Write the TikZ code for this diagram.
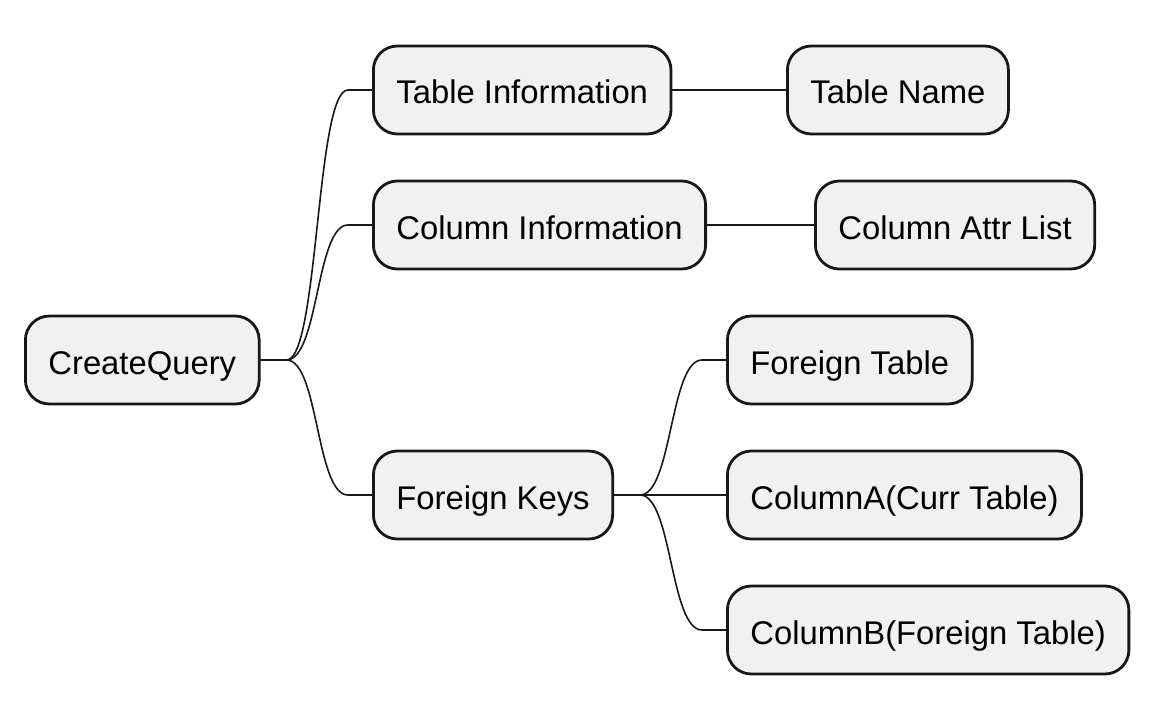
\documentclass[tikz,border=0pt]{standalone}
\usepackage{fontspec}
\setmainfont{Liberation Sans}
\usetikzlibrary{calc}
\definecolor{boxfill}{HTML}{F1F1F1}
\definecolor{boxline}{HTML}{181818}
\tikzstyle{idea} = [rectangle, rounded corners=12pt, draw=boxline, line width=1.4pt, fill=boxfill, minimum height=44pt, inner xsep=11.5pt, text height=16pt, text depth=2pt, anchor=west, font=\fontsize{16.4}{19}\selectfont]
\tikzstyle{branch} = [draw=boxline, line width=0.8pt, to path={-- ++(13pt,0) .. controls +(16pt,0) and ($(\tikztotarget)+(-28pt,0)$) .. ($(\tikztotarget)+(-12pt,0)$) -- (\tikztotarget)}]
\begin{document}
\begin{tikzpicture}[x=0.5pt,y=-0.5pt]
            \useasboundingbox (0,0) rectangle (1156,722);
            \node [idea] at (24,360) (root) {CreateQuery};
            \node [idea] at (372,90) (info1) {Table Information};
            \node [idea] at (786,90) (name1) {Table Name};
            \node [idea] at (372,225) (info2) {Column Information};
            \node [idea] at (814,225) (attr2) {Column Attr List};
            \node [idea] at (372,495) (keys) {Foreign Keys};
            \node [idea] at (726,360) (key1) {Foreign Table};
            \node [idea] at (726,495) (key2) {ColumnA(Curr Table)};
            \node [idea] at (726,630) (key3) {ColumnB(Foreign Table)};

            \draw [branch] (root.east) to (info1.west);
            \draw [branch] (root.east) to (info2.west);
            \draw [branch] (root.east) to (keys.west);
            \draw [branch] (info1.east) to (name1.west);
            \draw [branch] (info2.east) to (attr2.west);
            \draw [branch] (keys.east) to (key1.west);
            \draw [branch] (keys.east) to (key2.west);
            \draw [branch] (keys.east) to (key3.west);
            \end{tikzpicture}
\end{document}
